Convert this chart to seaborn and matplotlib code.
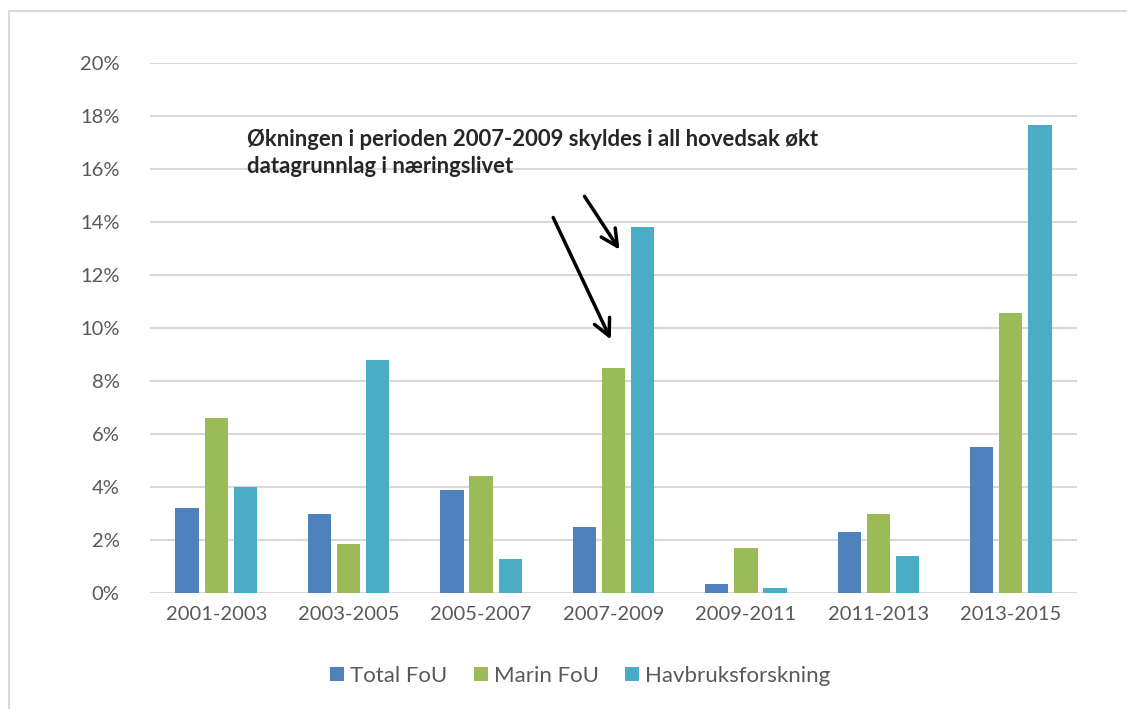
import matplotlib
matplotlib.use("Agg")
import matplotlib.pyplot as plt
from matplotlib.lines import Line2D
from matplotlib.patches import FancyArrowPatch
import pandas as pd
import seaborn as sns

periods = ["2001-2003", "2003-2005", "2005-2007", "2007-2009",
           "2009-2011", "2011-2013", "2013-2015"]
total_fou = [3.2, 3.0, 3.9, 2.5, 0.35, 2.3, 5.5]
marin_fou = [6.6, 1.85, 4.4, 8.5, 1.7, 3.0, 10.55]
havbruk = [4.0, 8.8, 1.3, 13.8, 0.2, 1.4, 17.65]
series_names = ["Total FoU", "Marin FoU", "Havbruksforskning"]
colors = ["#4F81BD", "#9BBB59", "#4BACC6"]
yticks = [0, 2, 4, 6, 8, 10, 12, 14, 16, 18, 20]
note = "Økningen i perioden 2007-2009 skyldes i all hovedsak økt\ndatagrunnlag i næringslivet"

df = pd.DataFrame({"periode": periods,
                   series_names[0]: total_fou,
                   series_names[1]: marin_fou,
                   series_names[2]: havbruk})
df = df.melt(id_vars="periode", var_name="serie", value_name="verdi")

sns.set_theme(style="white")
plt.rcParams["font.family"] = ["Lato", "DejaVu Sans"]

fig = plt.figure(figsize=(11.27, 7.09), dpi=100)
ax = fig.add_axes([150 / 1127, 1 - 593 / 709, 927 / 1127, 530 / 709])

sns.barplot(data=df, x="periode", y="verdi", hue="serie", palette=colors,
            saturation=1, width=0.66, gap=0.2, ax=ax, edgecolor="none", zorder=3)

ax.set_ylim(0, 20)
ax.set_xlim(-0.5, 6.5)
ax.set_yticks(yticks)
ax.set_yticklabels([f"{t}%" for t in yticks])
ax.yaxis.grid(True, color="#D9D9D9", linewidth=1.5, zorder=0)
ax.set_axisbelow(True)
for s in ax.spines.values():
    s.set_visible(False)
ax.tick_params(axis="both", length=0, labelsize=14.5, labelcolor="#595959")
ax.tick_params(axis="y", pad=22)
ax.tick_params(axis="x", pad=9)
ax.set_xlabel("")
ax.set_ylabel("")

ax.legend(loc="center", bbox_to_anchor=(580 / 1127, 1 - 676 / 709),
          bbox_transform=fig.transFigure, ncol=3, frameon=False,
          fontsize=16, labelcolor="#595959", handlelength=0.63, handleheight=0.63,
          handletextpad=0.27, columnspacing=1.2)

fig.text(247 / 1127, 1 - 129 / 709, note, fontsize=15.9, fontweight="bold",
         va="top", ha="left", linespacing=1.35)

# arrows pointing to 2007-2009
arrow = dict(arrowstyle="->", color="black", lw=2.5, mutation_scale=30)
fig.add_artist(FancyArrowPatch((583 / 1127, 1 - 194 / 709), (621 / 1127, 1 - 252 / 709),
                               transform=fig.transFigure, **arrow))
fig.add_artist(FancyArrowPatch((552 / 1127, 1 - 215 / 709), (612 / 1127, 1 - 342 / 709),
                               transform=fig.transFigure, **arrow))

# outer frame (left and top edges visible)
fig.add_artist(Line2D([9 / 1127, 9 / 1127], [0, 1 - 11 / 709], color="#D9D9D9", lw=1.5))
fig.add_artist(Line2D([9 / 1127, 1], [1 - 11 / 709, 1 - 11 / 709], color="#D9D9D9", lw=1.5))

fig.savefig("out.png", dpi=100, facecolor="white")
